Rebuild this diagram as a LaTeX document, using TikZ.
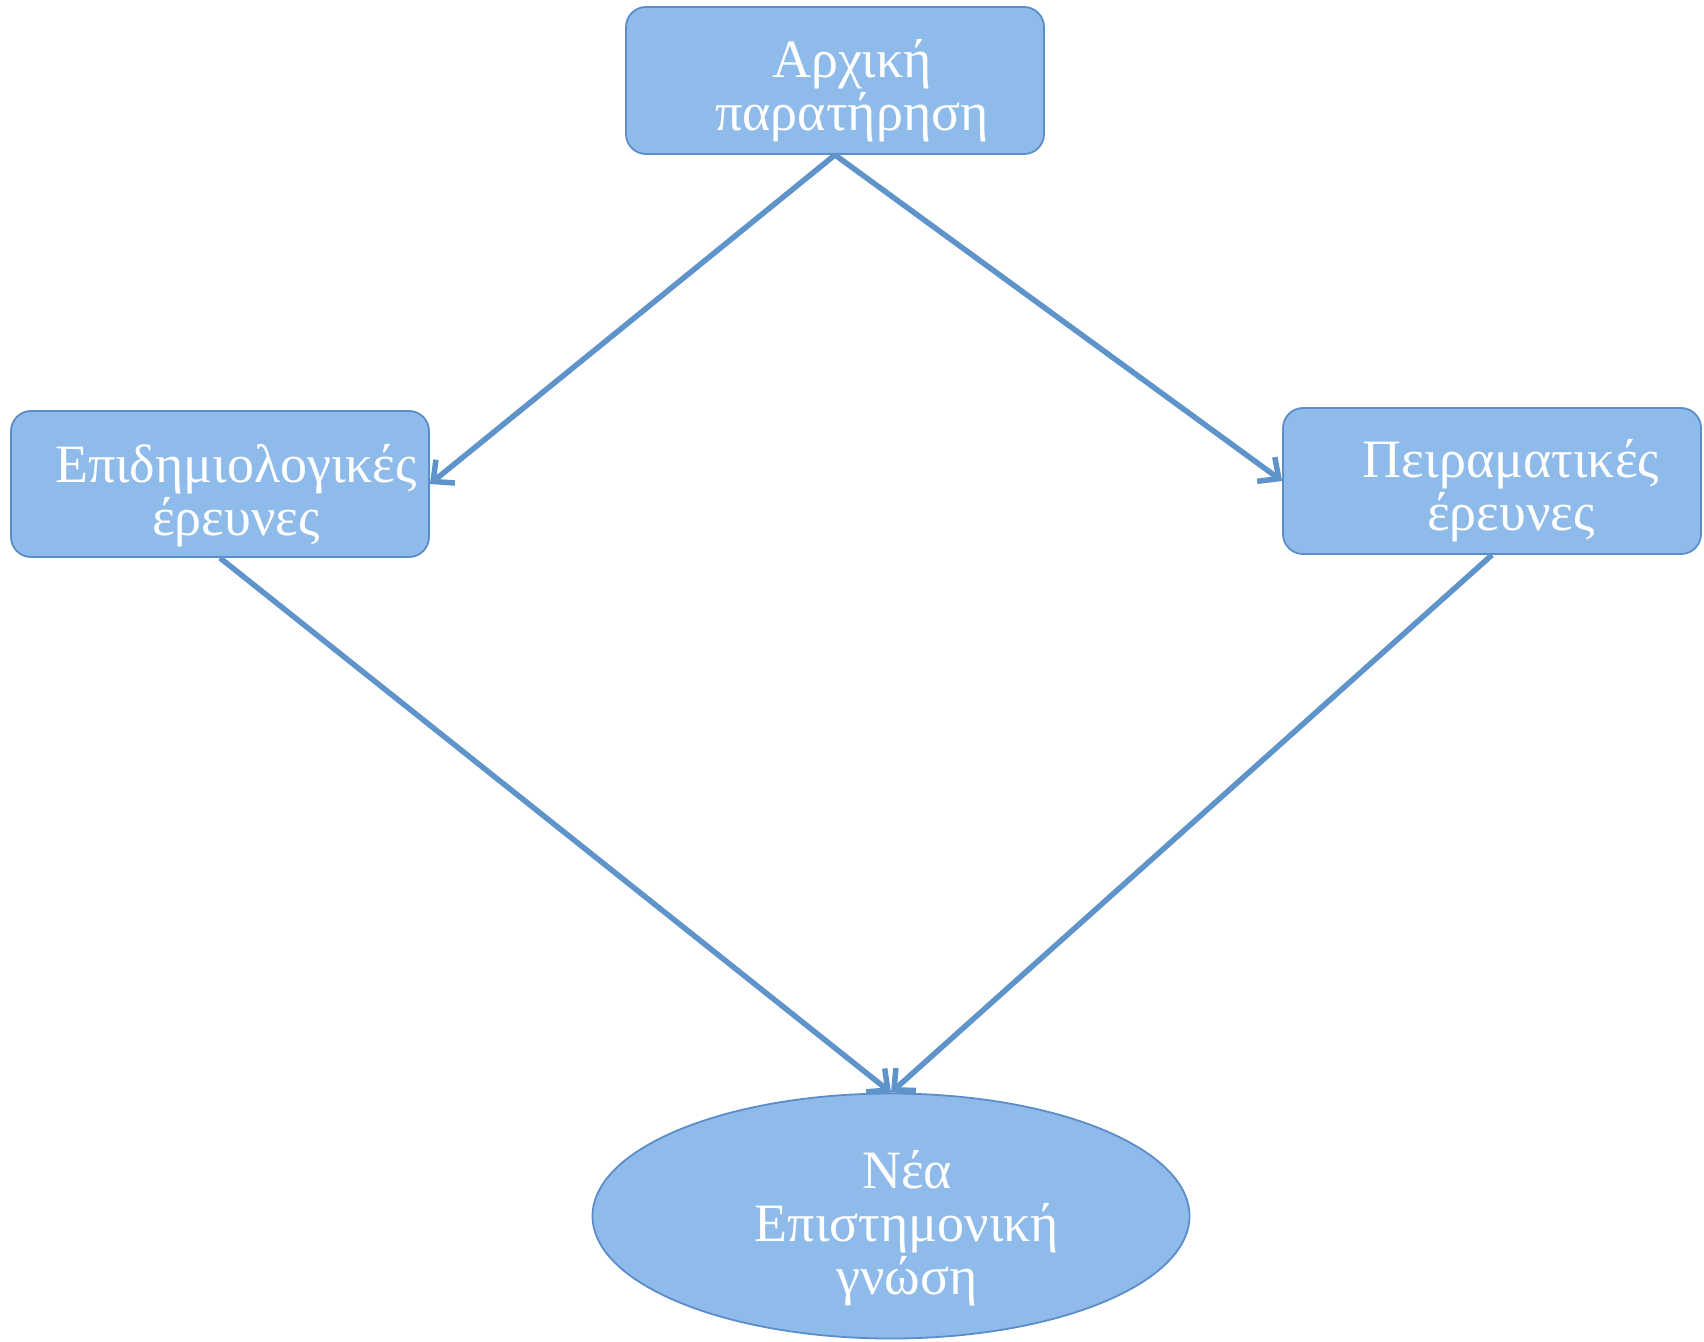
\documentclass[tikz,border=0pt]{standalone}
\usepackage{fontspec}
\setmainfont{Liberation Serif}
\usetikzlibrary{shapes.geometric,arrows.meta}
\definecolor{boxfill}{RGB}{143,187,235}
\definecolor{boxline}{RGB}{91,142,201}
\definecolor{arrline}{RGB}{94,148,202}
\begin{document}
\begin{tikzpicture}[x=1pt,y=-1pt,
  box/.style={draw=boxline,fill=boxfill,line width=1.8pt,rounded corners=20pt,inner sep=0pt},
  lab/.style={text=white,align=center,font=\fontsize{54}{53}\selectfont,inner sep=0pt,anchor=base},
  conn/.style={draw=arrline,line width=5.5pt,-{Straight Barb[length=16pt,width=30pt,line width=5.5pt]}}]
\useasboundingbox (0,0) rectangle (1704,1341);
\node[box,minimum width=418pt,minimum height=147pt] (top) at (835,80.5) {};
\node[box,minimum width=418pt,minimum height=146pt] (left) at (220,484) {};
\node[box,minimum width=418pt,minimum height=146pt] (right) at (1492,481) {};
\node[ellipse,draw=boxline,fill=boxfill,line width=1.8pt,minimum width=597pt,minimum height=245pt,inner sep=0pt] (bot) at (891,1216) {};
\node[lab] (toptext) at (852,130) {Αρχική\\παρατήρηση};
\node[lab] (lefttext) at (236,535) {Επιδημιολογικές\\έρευνες};
\node[lab] (righttext) at (1511,530) {Πειραματικές\\έρευνες};
\node[lab] (bottext) at (907,1294) {Νέα\\Επιστημονική\\γνώση};
\draw[conn] (top.south) -- (left.east);
\draw[conn] (top.south) -- (right.west);
\draw[conn] (left.south) -- (bot.north);
\draw[conn] (right.south) -- (bot.north);
\end{tikzpicture}
\end{document}
